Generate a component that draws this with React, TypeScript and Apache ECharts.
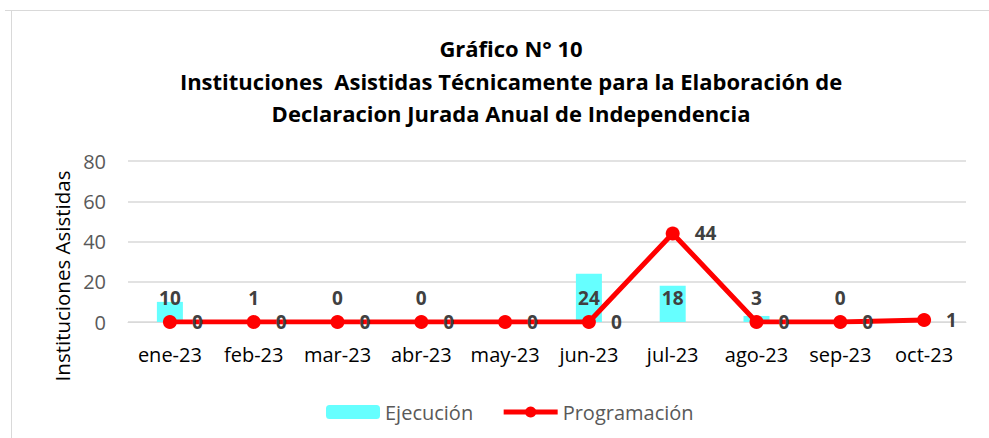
import React, { useEffect, useRef } from "react";
import * as echarts from "echarts";

const categories = ["ene-23", "feb-23", "mar-23", "abr-23", "may-23", "jun-23", "jul-23", "ago-23", "sep-23", "oct-23"];
const ejecucion: (number | null)[] = [10, 1, 0, 0, null, 24, 18, 3, 0, null];
const programacion: number[] = [0, 0, 0, 0, 0, 0, 44, 0, 0, 1];
const titleLines = [
  "Gráfico N° 10",
  "Instituciones  Asistidas Técnicamente para la Elaboración de",
  "Declaracion Jurada Anual de Independencia",
];
const yAxisName = "Instituciones Asistidas";

const FONT = "'Open Sans', sans-serif";

export default function App() {
  const ref = useRef<HTMLDivElement>(null);
  useEffect(() => {
    if (!ref.current) return;
    const chart = echarts.init(ref.current, null, { renderer: "svg" });
    chart.setOption({
      animation: false,
      backgroundColor: "#ffffff",
      textStyle: { fontFamily: FONT },
      title: {
        text: titleLines.join("\n"),
        left: 506,
        textAlign: "center",
        top: 27,
        textStyle: { fontSize: 22, fontWeight: "bold", color: "#000", lineHeight: 32.5, fontFamily: FONT },
      },
      graphic: [
        { type: "line", shape: { x1: 5, y1: 10.5, x2: 989, y2: 10.5 }, style: { stroke: "#d9d9d9", lineWidth: 1 } },
        { type: "line", shape: { x1: 11.5, y1: 10, x2: 11.5, y2: 438 }, style: { stroke: "#d9d9d9", lineWidth: 1 } },
        {
          type: "text",
          x: 62,
          y: 276,
          rotation: Math.PI / 2,
          style: { text: yAxisName, fontSize: 20.5, fill: "#000", align: "center", verticalAlign: "middle", fontFamily: FONT },
        },
      ],
      legend: {
        left: 321,
        top: 397,
        itemWidth: 54,
        itemHeight: 14,
        itemGap: 28,
        textStyle: { fontSize: 20, color: "#595959", fontFamily: FONT },
        data: [
          { name: "Ejecución" },
          { name: "Programación", lineStyle: { width: 5, color: "#ff0000" } },
        ],
      },
      grid: { left: 128, right: 23, top: 161, bottom: 116, containLabel: false },
      xAxis: {
        type: "category",
        data: categories,
        axisLine: { show: true, lineStyle: { color: "#d9d9d9", width: 1 } },
        axisTick: { show: false },
        axisLabel: { interval: 0, fontSize: 20, color: "#000", margin: 22, fontFamily: FONT },
      },
      yAxis: {
        type: "value",
        min: 0,
        max: 80,
        interval: 20,
        axisLine: { show: false },
        axisTick: { show: false },
        splitLine: { lineStyle: { color: "#d9d9d9", width: 1.5 } },
        axisLabel: { fontSize: 20, color: "#595959", margin: 22, fontFamily: FONT },
      },
      series: [
        {
          name: "Ejecución",
          type: "bar",
          data: ejecucion,
          barWidth: 26,
          itemStyle: { color: "#66ffff" },
          label: {
            show: true,
            position: "insideBottom",
            distance: 15,
            fontSize: 19,
            fontWeight: "bold",
            color: "#404040",
            fontFamily: FONT,
          },
        },
        {
          name: "Programación",
          type: "line",
          data: programacion,
          symbol: "circle",
          symbolSize: 14,
          lineStyle: { color: "#ff0000", width: 5 },
          itemStyle: { color: "#ff0000" },
          label: {
            show: true,
            position: "right",
            distance: 15,
            fontSize: 19,
            fontWeight: "bold",
            color: "#404040",
            fontFamily: FONT,
          },
        },
      ],
    });
    return () => chart.dispose();
  }, []);
  return <div ref={ref} style={{ position: "fixed", left: 0, top: 0, width: 989, height: 438 }} />;
}
